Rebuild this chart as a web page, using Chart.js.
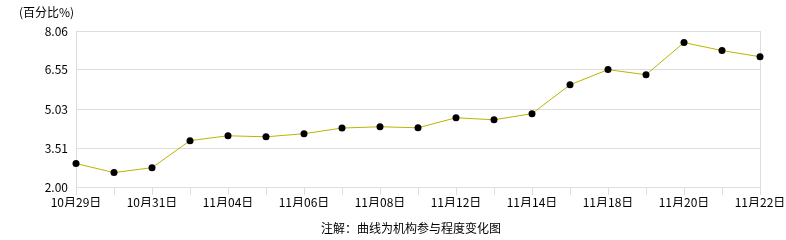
<!DOCTYPE html>
<html>
<head>
<meta charset="utf-8">
<script src="https://cdn.jsdelivr.net/npm/chart.js@4"></script>
<style>
  html, body { margin: 0; padding: 0; background: #fff; }
  #wrap { width: 786px; height: 240px; }
</style>
</head>
<body>
<div id="wrap"><canvas id="chart" width="786" height="240"></canvas></div>
<script>
// data
const dates = ['10月29日', '10月30日', '10月31日', '11月01日', '11月04日', '11月05日', '11月06日',
  '11月07日', '11月08日', '11月11日', '11月12日', '11月13日', '11月14日', '11月15日',
  '11月18日', '11月19日', '11月20日', '11月21日', '11月22日'];
const values = [2.91, 2.56, 2.75, 3.80, 3.99, 3.95, 4.07, 4.29, 4.34, 4.30, 4.69, 4.61, 4.85,
  5.97, 6.56, 6.36, 7.61, 7.30, 7.06];
const yTicks = [2.00, 3.51, 5.03, 6.55, 8.06];
const unitLabel = '(百分比%)';
const caption = '注解：曲线为机构参与程度变化图';

const FONT = '"Noto Sans CJK SC", "DejaVu Sans", sans-serif';

// extra text outside the axes
const textPlugin = {
  id: 'extraText',
  afterDraw(chart) {
    const c = chart.ctx;
    c.save();
    c.fillStyle = '#000';
    c.font = '12px ' + FONT;
    c.textBaseline = 'middle';
    c.textAlign = 'left';
    c.fillText(unitLabel, 19, 12);
    c.textAlign = 'center';
    c.fillText(caption, 411, 228);
    c.restore();
  }
};

const ctx = document.getElementById('chart').getContext('2d');
new Chart(ctx, {
  type: 'line',
  data: {
    labels: dates,
    datasets: [{
      data: values,
      borderColor: '#bdb400',
      borderWidth: 1,
      tension: 0,
      fill: false,
      pointRadius: 3.5,
      pointBackgroundColor: '#000',
      pointBorderWidth: 0
    }]
  },
  plugins: [textPlugin],
  options: {
    responsive: false,
    animation: false,
    layout: { padding: { left: 0, right: 26, top: 31, bottom: 33 } },
    plugins: {
      legend: { display: false },
      tooltip: { enabled: false }
    },
    scales: {
      x: {
        offset: false,
        afterFit(scale) { scale.height = 20; },
        border: { display: true, color: '#dddddd' },
        grid: {
          drawOnChartArea: true,
          color: c => (c.index === 0 || c.index === dates.length - 1) ? '#dddddd' : 'rgba(0,0,0,0)',
          tickColor: '#dddddd',
          tickLength: 8
        },
        ticks: {
          autoSkip: false,
          maxRotation: 0,
          padding: 0,
          color: '#000',
          font: { size: 12, family: FONT },
          callback: (v, i) => i % 2 === 0 ? dates[i] : ''
        }
      },
      y: {
        min: yTicks[0],
        max: yTicks[yTicks.length - 1],
        afterFit(scale) { scale.width = 76; },
        afterBuildTicks(scale) { scale.ticks = yTicks.map(v => ({ value: v })); },
        border: { display: true, color: '#dddddd' },
        grid: { color: '#dddddd', drawTicks: false },
        ticks: {
          padding: 8,
          color: '#000',
          font: { size: 12, family: FONT },
          callback: v => v.toFixed(2)
        }
      }
    }
  }
});
</script>
</body>
</html>
